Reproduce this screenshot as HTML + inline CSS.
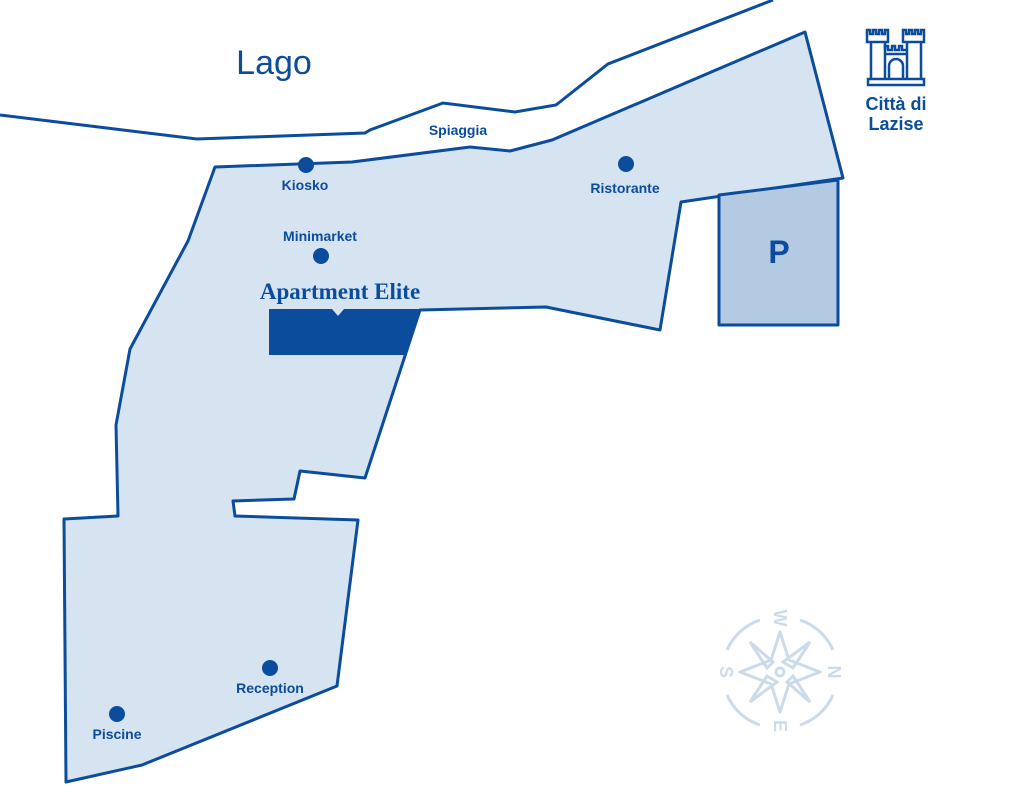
<!DOCTYPE html>
<html><head><style>
body{margin:0;background:#fff;width:1019px;height:800px;overflow:hidden}
svg{display:block}
text{font-family:"Liberation Sans",sans-serif;fill:#0b4c9c}
</style></head><body>
<svg width="1019" height="800" viewBox="0 0 1019 800">
<polyline points="0,115 197,139 365,133 370,130 443,103 515,112 556,105 608,64 773,0" fill="none" stroke="#0b4c9c" stroke-width="3"/>
<polygon points="215,167 352,162 470,147 510,151 552,140 805,32 843,178 681,202 660,330 546,307 420,310 365,478 300,471 294,499 233,501 235,516 358,520 337,686 142,765 66,782 64,519 118,516 116,425 130,349 188,241" fill="#d6e3f1" stroke="#0b4c9c" stroke-width="3" stroke-linejoin="round"/>
<polygon points="719,195 838,180 838,325 719,325" fill="#b3cae2" stroke="#0b4c9c" stroke-width="3" stroke-linejoin="round"/>
<text x="779" y="263" font-size="32" font-weight="bold" text-anchor="middle">P</text>
<polygon points="269,309 420,309 405,355 269,355" fill="#0b4c9c"/>
<polygon points="332,309 344,309 338,316" fill="#d6e3f1"/>
<text x="340" y="299" font-size="23" font-weight="bold" text-anchor="middle" style="font-family:'Liberation Serif',serif">Apartment Elite</text>
<text x="274" y="74" font-size="34" text-anchor="middle">Lago</text>
<text x="458" y="135" font-size="14" font-weight="bold" text-anchor="middle">Spiaggia</text>
<g fill="#0b4c9c">
<circle cx="306" cy="165" r="8"/><circle cx="626" cy="164" r="8"/><circle cx="321" cy="256" r="8"/>
<circle cx="270" cy="668" r="8"/><circle cx="117" cy="714" r="8"/></g>
<g font-size="14" font-weight="bold" text-anchor="middle">
<text x="305" y="190">Kiosko</text><text x="625" y="193">Ristorante</text><text x="320" y="241">Minimarket</text>
<text x="270" y="693">Reception</text><text x="117" y="739">Piscine</text></g>
<g font-size="18" font-weight="bold" text-anchor="middle"><text x="896" y="110">Città di</text><text x="896" y="130">Lazise</text></g>
<g fill="none" stroke="#0b4c9c" stroke-width="2.5">
<rect x="868" y="79" width="56" height="6"/>
<path d="M871,79V42h14V79 M867,42V30h3v4h3v-4h3v4h3v-4h3v4h3v-4h3v12z"/>
<path d="M907,79V42h14V79 M903,42V30h3v4h3v-4h3v4h3v-4h3v4h3v-4h3v12z"/>
<path d="M885,54h22 M885,50v-4h3v4h4v-4h3v4h4v-4h3v4h5"/>
<path d="M889,79V66a7,7 0 0 1 14,0V79"/>
</g>
<g stroke="#ccdbea" stroke-width="3" fill="none">
<path d="M760,620 A55,55 0 0 0 727,650 M727,695 A55,55 0 0 0 760,725 M800,725 A55,55 0 0 0 833,695 M833,650 A55,55 0 0 0 800,620"/>
<polygon points="780,632 789,660 820,672 789,684 780,712 771,684 740,672 771,660" stroke-linejoin="round"/>
<polygon points="810,642 793,668 783,662" /><polygon points="750,702 767,676 777,682"/>
<polygon points="750,642 773,662 767,668"/><polygon points="810,702 787,682 793,676"/>
<circle cx="780" cy="672" r="4"/>
</g>
<g font-size="18" font-weight="bold" text-anchor="middle">
<text x="780" y="624" transform="rotate(90 780 618)" style="fill:#ccdbea">W</text>
<text x="834" y="678" transform="rotate(90 834 672)" style="fill:#ccdbea">N</text>
<text x="780" y="732" transform="rotate(90 780 726)" style="fill:#ccdbea">E</text>
<text x="726" y="678" transform="rotate(90 726 672)" style="fill:#ccdbea">S</text>
</g>
</svg>
</body></html>
